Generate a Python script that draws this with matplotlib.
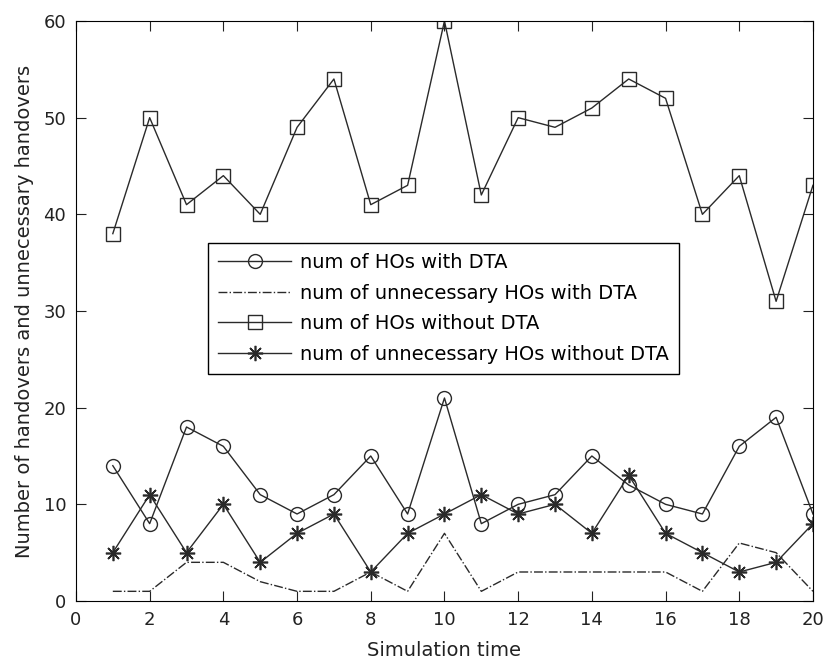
import matplotlib
matplotlib.use('Agg')
import matplotlib.pyplot as plt

plt.rcParams['font.family'] = ['DejaVu Sans']

sim_time = list(range(1, 21))
hos_with_dta = [14, 8, 18, 16, 11, 9, 11, 15, 9, 21, 8, 10, 11, 15, 12, 10, 9, 16, 19, 9]
unnec_with_dta = [1, 1, 4, 4, 2, 1, 1, 3, 1, 7, 1, 3, 3, 3, 3, 3, 1, 6, 5, 1]
hos_without_dta = [38, 50, 41, 44, 40, 49, 54, 41, 43, 60, 42, 50, 49, 51, 54, 52, 40, 44, 31, 43]
unnec_without_dta = [5, 11, 5, 10, 4, 7, 9, 3, 7, 9, 11, 9, 10, 7, 13, 7, 5, 3, 4, 8]

fig = plt.figure(figsize=(8.23, 6.6), dpi=100)
ax = fig.add_axes([0.0923, 0.0894, 0.8955, 0.8788])

lc = '#2a2a2a'
ax.plot(sim_time, hos_with_dta, color=lc, lw=1, marker='o', ms=10,
        mfc='none', mec=lc, mew=1, label='num of HOs with DTA')
ax.plot(sim_time, unnec_with_dta, color=lc, lw=1, linestyle='-.',
        label='num of unnecessary HOs with DTA')
ax.plot(sim_time, hos_without_dta, color=lc, lw=1, marker='s', ms=10.5,
        mfc='none', mec=lc, mew=1, label='num of HOs without DTA')
ax.plot(sim_time, unnec_without_dta, color=lc, lw=1, marker=(8, 2, 0), ms=11,
        mec=lc, mew=1.2, label='num of unnecessary HOs without DTA')

ax.set_xlim(0, 20)
ax.set_ylim(0, 60)
ax.set_xticks(range(0, 21, 2))
ax.set_yticks(range(0, 61, 10))
ax.tick_params(direction='in', top=True, right=True, labelsize=13,
               length=7, pad=7, colors='#222222')
ax.set_xlabel('Simulation time', fontsize=14, labelpad=9, color='#222222')
ax.set_ylabel('Number of handovers and unnecessary handovers', fontsize=14,
              labelpad=7, color='#222222')

leg = ax.legend(loc='upper left', bbox_to_anchor=(0.179, 0.617), fontsize=14,
                frameon=True, fancybox=False, edgecolor='black', framealpha=1,
                borderpad=0.5, labelspacing=0.6, handlelength=3.8,
                handletextpad=0.45, borderaxespad=0)
leg.get_frame().set_linewidth(1)

plt.savefig('out.png')
plt.close()
